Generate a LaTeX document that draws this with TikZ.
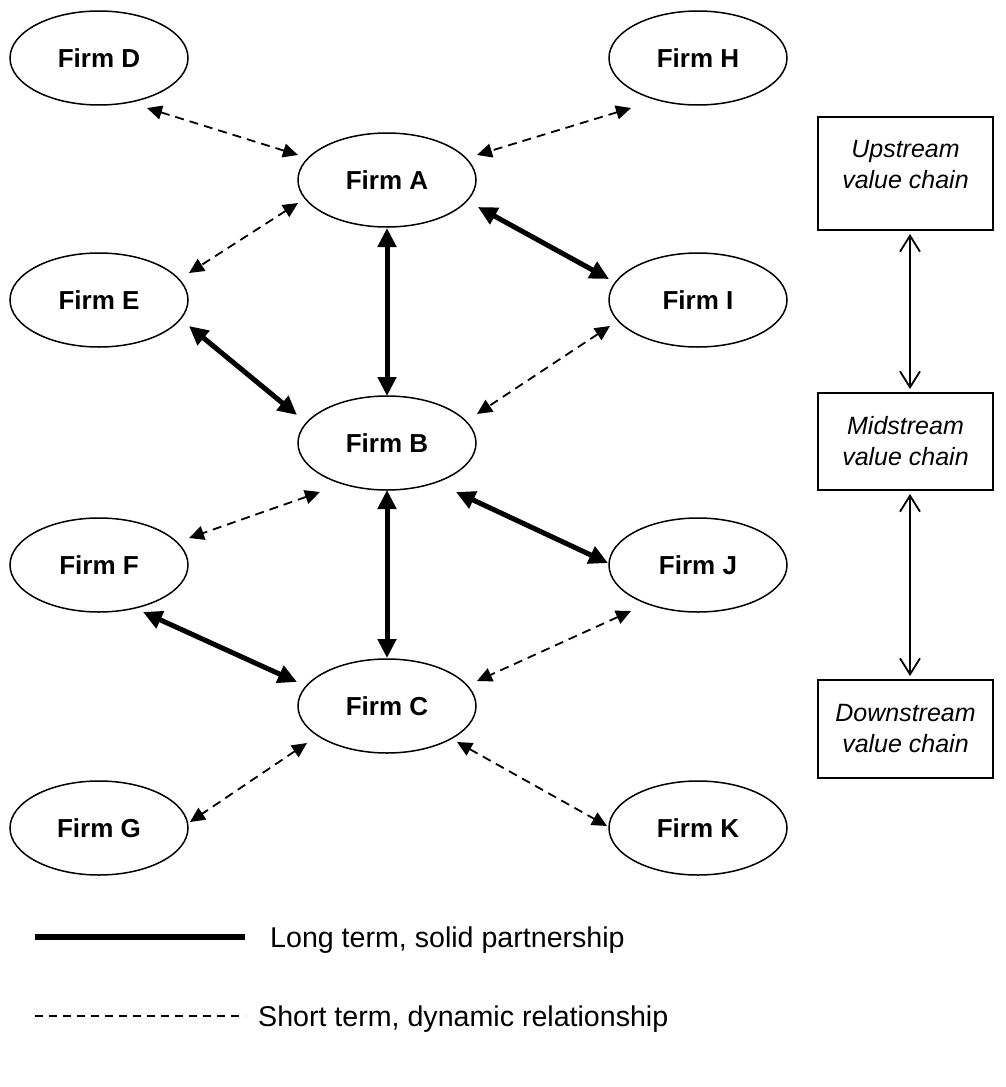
\documentclass[tikz,border=0pt]{standalone}
\usepackage{fontspec}
\setmainfont{Liberation Sans}
\usetikzlibrary{arrows.meta,calc,shapes.geometric}

\begin{document}
\begin{tikzpicture}[x=1pt,y=-1pt,
  firm/.style={ellipse, draw, line width=1.5pt, minimum width=178pt,
    minimum height=94pt, inner sep=0pt,
    font=\fontsize{26}{30}\selectfont\bfseries},
  chain/.style={draw, line width=2pt, minimum width=175pt, inner sep=0pt,
    align=center, font=\fontsize{25}{31}\selectfont\itshape},
  strong/.style={line width=5pt,
    {Triangle[length=19pt,width=18pt]}-{Triangle[length=19pt,width=18pt]}},
  loose/.style={line width=1.8pt, dash pattern=on 9pt off 6pt,
    {Triangle[length=15pt,width=14pt]}-{Triangle[length=15pt,width=14pt]}},
  flow/.style={line width=1.8pt,
    {Straight Barb[length=16pt,width=20pt]}-{Straight Barb[length=16pt,width=20pt]}},
  legendtext/.style={anchor=west, inner sep=0pt,
    font=\fontsize{28.6}{33}\selectfont}]

\useasboundingbox (0,0) rectangle (1005,1087);

% firms
\node[firm] (D) at (99,58)  {Firm D};
\node[firm] (H) at (698,58) {Firm H};
\node[firm] (A) at (387,180) {Firm A};
\node[firm] (E) at (99,300)  {Firm E};
\node[firm] (I) at (698,300) {Firm I};
\node[firm] (B) at (387,443) {Firm B};
\node[firm] (F) at (99,565)  {Firm F};
\node[firm] (J) at (698,565) {Firm J};
\node[firm] (C) at (387,706) {Firm C};
\node[firm] (G) at (99,828)  {Firm G};
\node[firm] (K) at (698,828) {Firm K};

% long term partnerships
\draw[strong] ($(A)+(0,48)$) -- ($(B)+(0,-47)$);
\draw[strong] ($(A)+(91,27)$) -- ($(I)+(-89,-21)$);
\draw[strong] ($(E)+(90,26)$) -- ($(B)+(-90,-28)$);
\draw[strong] ($(B)+(69,49)$) -- ($(J)+(-90,-2)$);
\draw[strong] ($(B)+(0,47)$) -- ($(C)+(0,-48)$);
\draw[strong] ($(F)+(44,47)$) -- ($(C)+(-90,-24)$);

% short term relationships
\draw[loose] ($(D)+(48,50)$)  -- ($(A)+(-89,-25)$);
\draw[loose] ($(H)+(-67,50)$) -- ($(A)+(90,-25)$);
\draw[loose] ($(A)+(-89,23)$) -- ($(E)+(90,-27)$);
\draw[loose] ($(I)+(-88,26)$) -- ($(B)+(90,-29)$);
\draw[loose] ($(B)+(-67,49)$) -- ($(F)+(90,-27)$);
\draw[loose] ($(J)+(-67,46)$) -- ($(C)+(90,-25)$);
\draw[loose] ($(C)+(-80,37)$) -- ($(G)+(91,-6)$);
\draw[loose] ($(C)+(70,36)$)  -- ($(K)+(-91,-2)$);

% value chain stages
\node[chain, minimum height=113pt, text depth=18pt] (up) at (905.5,173.5)
  {Upstream\\value chain};
\node[chain, minimum height=97pt] (mid) at (905.5,441.5)
  {Midstream\\value chain};
\node[chain, minimum height=98pt] (down) at (905.5,729)
  {Downstream\\value chain};

\draw[flow] ($(up.south)+(4.5,3)$) -- ($(mid.north)+(4.5,-3)$);
\draw[flow] ($(mid.south)+(4.5,3)$) -- ($(down.north)+(4.5,-3)$);

% legend
\coordinate (solidA) at (35,937);
\coordinate (solidB) at (245,937);
\draw[line width=6pt] (solidA) -- (solidB);
\node[legendtext] (solidT) at (270,940) {Long term, solid partnership};

\coordinate (dashA) at (35,1016);
\coordinate (dashB) at (245,1016);
\draw[line width=1.5pt, dash pattern=on 8pt off 6pt] (dashA) -- (dashB);
\node[legendtext] (dashT) at (258,1019) {Short term, dynamic relationship};

\end{tikzpicture}
\end{document}
